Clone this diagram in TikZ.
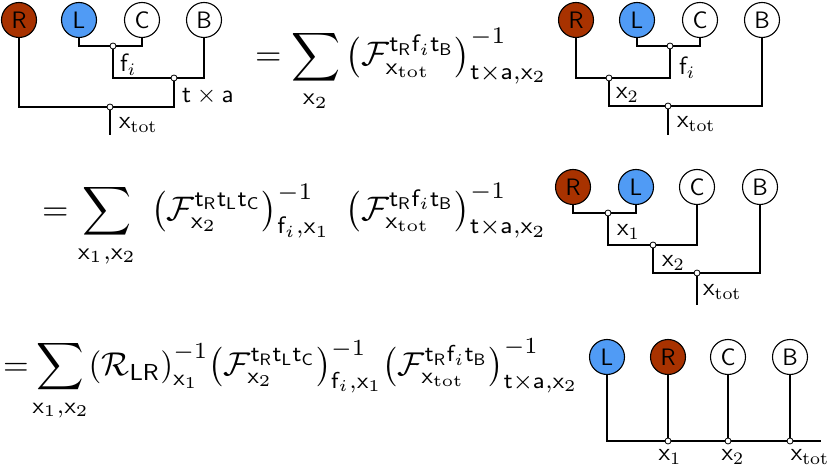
\documentclass[tikz,border=0pt]{standalone}
\usepackage{amsmath}
\usepackage{graphicx}
\begin{document}
\begin{tikzpicture}[x=1pt,y=-1pt,
 leaf/.style={circle,draw,line width=1.1pt,minimum size=35pt,inner sep=0pt},
 ltext/.style={inner sep=0pt},
 red/.style={fill={rgb,255:red,168;green,50;blue,0}},
 blue/.style={fill={rgb,255:red,80;green,155;blue,245}},
 vtx/.style={circle,draw,fill=white,line width=0.8pt,minimum size=6pt,inner sep=0pt},
 ln/.style={line width=1.1pt},
 lab/.style={inner sep=0pt},
 eq/.style={inner sep=0pt}]
\useasboundingbox (0,0) rectangle (830,470);
\newcommand{\s}[1]{\mathsf{#1}}
\newcommand{\leaftxt}[1]{\scalebox{1.65}{\sffamily\Large #1}}
\newcommand{\labtxt}[1]{\scalebox{2.5}{#1}}
\newcommand{\eqtxt}[1]{\scalebox{3.4}{#1}}
% tree 1
\node[leaf,red] (r1) at (19,20) {};\node[ltext] at (r1) {\leaftxt{R}};
\node[leaf,blue] (l1) at (79,20) {};\node[ltext] at (l1) {\leaftxt{L}};
\node[leaf] (c1) at (142,20) {};\node[ltext] at (c1) {\leaftxt{C}};
\node[leaf] (b1) at (204,20) {};\node[ltext] at (b1) {\leaftxt{B}};
\coordinate (a1) at (113,46);\coordinate (b1v) at (174,78);\coordinate (t1) at (110,107);\coordinate (e1) at (110,135);
\draw[ln] (l1) |- (a1) -| (c1);
\draw[ln] (a1) |- (b1v) -| (b1);
\draw[ln] (r1) |- (t1) -| (b1v);
\draw[ln] (t1) -- (e1);
\node[vtx] at (a1){};\node[vtx] at (b1v){};\node[vtx] at (t1){};
\node[lab,anchor=west] at (120,65) {\labtxt{$\s{f}_i$}};
\node[lab,anchor=west] at (182,96) {\labtxt{$\s{t}\times\s{a}$}};
\node[lab,anchor=west] at (119,125) {\labtxt{$\s{x}_{\mathrm{tot}}$}};
% eq 1
\node[eq,anchor=west] at (255,70) {\eqtxt{$=\displaystyle\sum_{\s{x}_2}\left(\mathcal{F}^{\s{t}_\s{R}\s{f}_i\s{t}_\s{B}}_{\s{x}_{\mathrm{tot}}}\right)^{-1}_{\s{t}\times\s{a},\s{x}_2}$}};
% tree 2
\node[leaf,red] (r2) at (576,20) {};\node[ltext] at (r2) {\leaftxt{R}};
\node[leaf,blue] (l2) at (637,20) {};\node[ltext] at (l2) {\leaftxt{L}};
\node[leaf] (c2) at (700,20) {};\node[ltext] at (c2) {\leaftxt{C}};
\node[leaf] (b2) at (762,20) {};\node[ltext] at (b2) {\leaftxt{B}};
\coordinate (a2) at (670,46);\coordinate (m2) at (609,78);\coordinate (t2) at (668,106);\coordinate (e2) at (668,135);
\draw[ln] (l2) |- (a2) -| (c2);
\draw[ln] (r2) |- (m2) -| (a2);
\draw[ln] (m2) |- (t2) -| (b2);
\draw[ln] (t2) -- (e2);
\node[vtx] at (a2){};\node[vtx] at (m2){};\node[vtx] at (t2){};
\node[lab,anchor=west] at (679,68) {\labtxt{$\s{f}_i$}};
\node[lab,anchor=west] at (616,95) {\labtxt{$\s{x}_2$}};
\node[lab,anchor=west] at (677,124) {\labtxt{$\s{x}_{\mathrm{tot}}$}};
% eq 2
\node[eq,anchor=west] at (42,225) {\eqtxt{$=\displaystyle\sum_{\s{x}_1,\s{x}_2}\;\left(\mathcal{F}^{\s{t}_\s{R}\s{t}_\s{L}\s{t}_\s{C}}_{\s{x}_2}\right)^{-1}_{\s{f}_i,\s{x}_1}\;\left(\mathcal{F}^{\s{t}_\s{R}\s{f}_i\s{t}_\s{B}}_{\s{x}_{\mathrm{tot}}}\right)^{-1}_{\s{t}\times\s{a},\s{x}_2}$}};
% tree 3
\node[leaf,red] (r3) at (573,187) {};\node[ltext] at (r3) {\leaftxt{R}};
\node[leaf,blue] (l3) at (636,187) {};\node[ltext] at (l3) {\leaftxt{L}};
\node[leaf] (c3) at (697,187) {};\node[ltext] at (c3) {\leaftxt{C}};
\node[leaf] (b3) at (760,187) {};\node[ltext] at (b3) {\leaftxt{B}};
\coordinate (a3) at (608,213);\coordinate (m3) at (653,245);\coordinate (t3) at (697,273);\coordinate (e3) at (697,305);
\draw[ln] (r3) |- (a3) -| (l3);
\draw[ln] (a3) |- (m3) -| (c3);
\draw[ln] (m3) |- (t3) -| (b3);
\draw[ln] (t3) -- (e3);
\node[vtx] at (a3){};\node[vtx] at (m3){};\node[vtx] at (t3){};
\node[lab,anchor=west] at (617,232) {\labtxt{$\s{x}_1$}};
\node[lab,anchor=west] at (662,263) {\labtxt{$\s{x}_2$}};
\node[lab,anchor=west] at (703,292) {\labtxt{$\s{x}_{\mathrm{tot}}$}};
% eq 3
\node[eq,anchor=west] at (3,380) {\scalebox{3.3}{$=\!\displaystyle\sum_{\s{x}_1,\s{x}_2}\!\left(\mathcal{R}_{\s{LR}}\right)^{-1}_{\s{x}_1}\!\left(\mathcal{F}^{\s{t}_\s{R}\s{t}_\s{L}\s{t}_\s{C}}_{\s{x}_2}\right)^{-1}_{\s{f}_i,\s{x}_1}\!\left(\mathcal{F}^{\s{t}_\s{R}\s{f}_i\s{t}_\s{B}}_{\s{x}_{\mathrm{tot}}}\right)^{-1}_{\s{t}\times\s{a},\s{x}_2}$}};
% tree 4
\node[leaf,blue] (l4) at (607,357) {};\node[ltext] at (l4) {\leaftxt{L}};
\node[leaf,red] (r4) at (668,357) {};\node[ltext] at (r4) {\leaftxt{R}};
\node[leaf] (c4) at (728,357) {};\node[ltext] at (c4) {\leaftxt{C}};
\node[leaf] (b4) at (790,357) {};\node[ltext] at (b4) {\leaftxt{B}};
\coordinate (s4) at (607,441);\coordinate (n1) at (668,441);\coordinate (n2) at (728,441);\coordinate (n3) at (790,441);\coordinate (e4) at (821,441);
\draw[ln] (l4) -- (s4) -- (e4);
\draw[ln] (r4) -- (n1);\draw[ln] (c4) -- (n2);\draw[ln] (b4) -- (n3);
\node[vtx] at (n1){};\node[vtx] at (n2){};\node[vtx] at (n3){};
\node[lab] at (670,457) {\labtxt{$\s{x}_1$}};
\node[lab] at (733,457) {\labtxt{$\s{x}_2$}};
\node[lab] at (810,457) {\labtxt{$\s{x}_{\mathrm{tot}}$}};
\end{tikzpicture}
\end{document}
